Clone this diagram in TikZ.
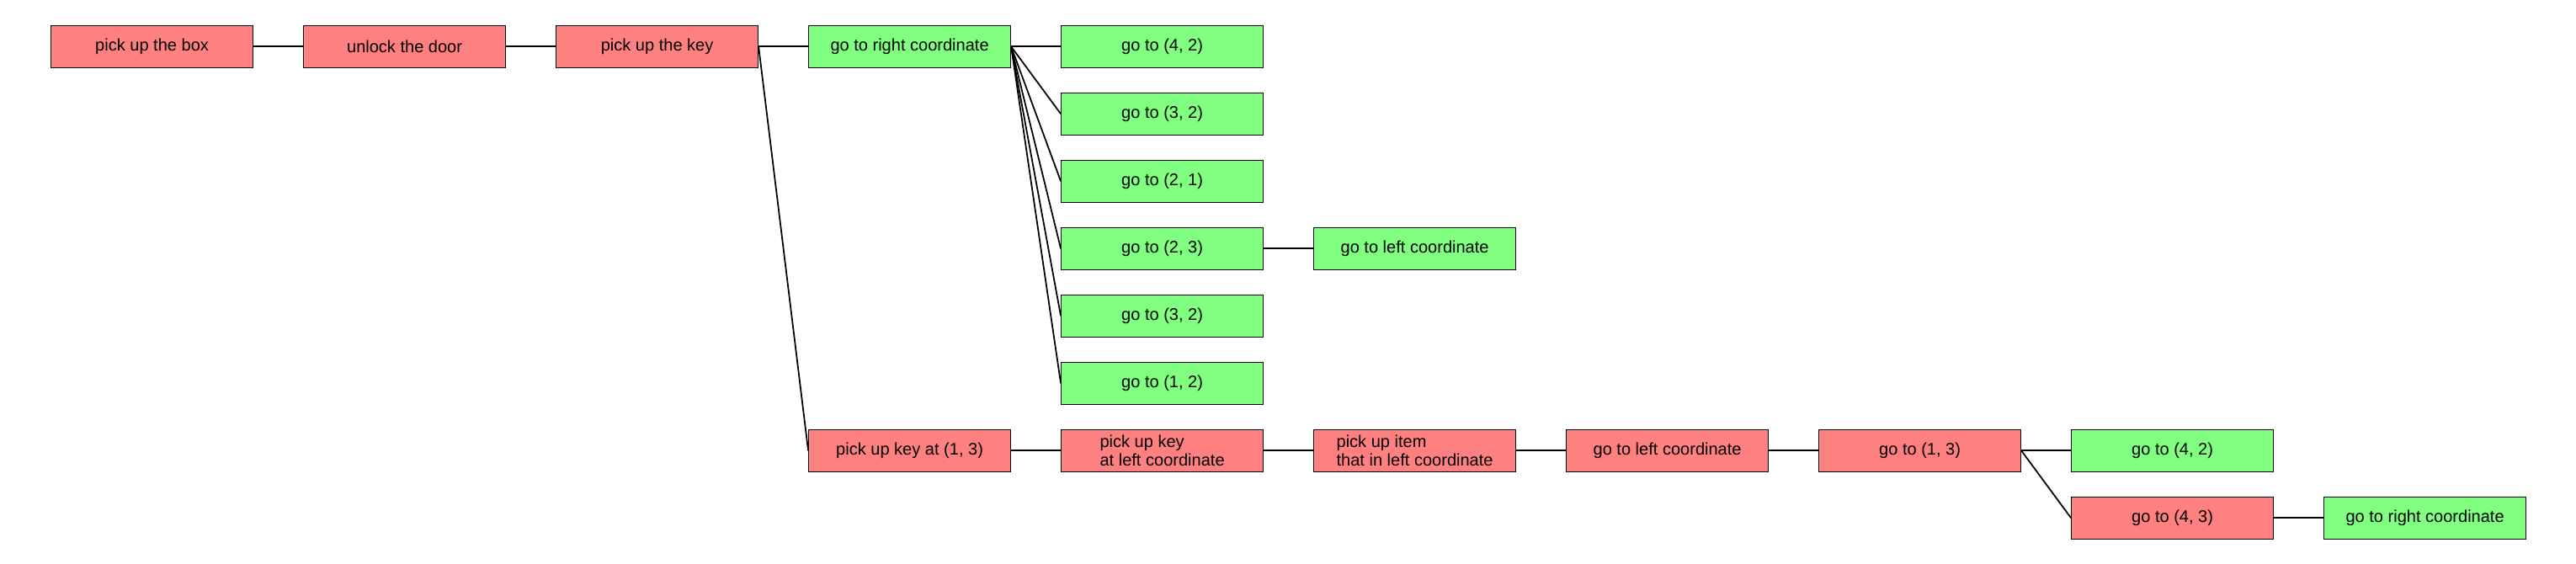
\documentclass[tikz,border=0pt]{standalone}
\usepackage{fontspec}
\setmainfont{Liberation Sans}
\definecolor{failred}{RGB}{255,128,128}
\definecolor{okgreen}{RGB}{128,255,128}
\begin{document}
\begin{tikzpicture}[
  box/.style={draw, line width=0.3pt, minimum width=2.4cm, minimum height=0.5cm,
    inner sep=0pt, align=left, font=\fontsize{5.7}{6.5}\selectfont},
  redbox/.style={box, fill=failred},
  greenbox/.style={box, fill=okgreen},
  edge/.style={line width=0.5pt}]
\useasboundingbox (0,0) rectangle (30.6,-6.7);

% top row
\node[redbox] (box) at (1.806,-0.553) {pick up the box};
\node[redbox] (door) at (4.806,-0.553) {unlock the door};
\node[redbox] (key) at (7.806,-0.553) {pick up the key};
\node[greenbox] (right) at (10.806,-0.553) {go to right coordinate};

% children of right coordinate
\node[greenbox] (g42) at (13.806,-0.553) {go to (4, 2)};
\node[greenbox] (g32) at (13.806,-1.353) {go to (3, 2)};
\node[greenbox] (g21) at (13.806,-2.153) {go to (2, 1)};
\node[greenbox] (g23) at (13.806,-2.953) {go to (2, 3)};
\node[greenbox] (g32b) at (13.806,-3.753) {go to (3, 2)};
\node[greenbox] (g12) at (13.806,-4.553) {go to (1, 2)};
\node[greenbox] (left) at (16.806,-2.953) {go to left coordinate};

% bottom row
\node[redbox] (keyat) at (10.806,-5.353) {pick up key at (1, 3)};
\node[redbox] (keyleft) at (13.806,-5.353) {pick up key\\at left coordinate};
\node[redbox] (item) at (16.806,-5.353) {pick up item\\that in left coordinate};
\node[redbox] (goleft) at (19.806,-5.353) {go to left coordinate};
\node[redbox] (g13) at (22.806,-5.353) {go to (1, 3)};
\node[greenbox] (g42b) at (25.806,-5.353) {go to (4, 2)};
\node[redbox] (g43) at (25.806,-6.153) {go to (4, 3)};
\node[greenbox] (rightb) at (28.806,-6.153) {go to right coordinate};

\draw[edge] (box.east) -- (door.west);
\draw[edge] (door.east) -- (key.west);
\draw[edge] (key.east) -- (right.west);
\draw[edge] (key.east) -- (keyat.west);
\foreach \n in {g42,g32,g21,g23,g32b,g12}
  \draw[edge] (right.east) -- (\n.west);
\draw[edge] (g23.east) -- (left.west);
\draw[edge] (keyat.east) -- (keyleft.west);
\draw[edge] (keyleft.east) -- (item.west);
\draw[edge] (item.east) -- (goleft.west);
\draw[edge] (goleft.east) -- (g13.west);
\draw[edge] (g13.east) -- (g42b.west);
\draw[edge] (g13.east) -- (g43.west);
\draw[edge] (g43.east) -- (rightb.west);
\end{tikzpicture}
\end{document}
